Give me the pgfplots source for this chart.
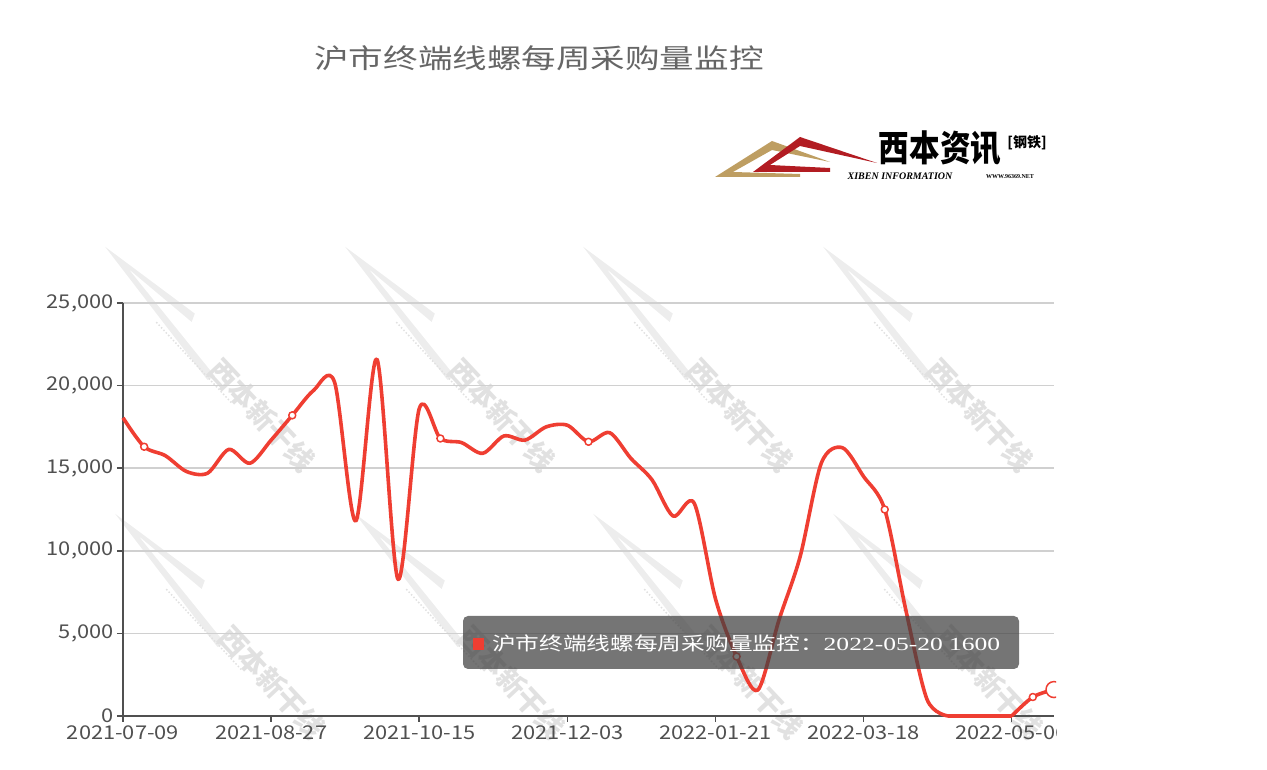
\documentclass[border=0pt]{standalone}
\usepackage{fontspec}
\usepackage{pgfplots}
\usepackage{pgfplotstable}
\pgfplotsset{compat=1.18}
\setmainfont{Noto Sans CJK SC}
\newfontfamily\titlefont{Noto Sans CJK SC}[FakeStretch=1.28]
\newfontfamily\labelfont{Noto Sans CJK SC}[FakeStretch=1.15]
\newfontfamily\tipserif{Liberation Serif}[FakeStretch=1.38]
\newfontfamily\logoserif{Liberation Serif}

\definecolor{linered}{RGB}{239,62,50}
\definecolor{axisgray}{RGB}{80,80,80}
\definecolor{gridgray}{RGB}{208,208,208}
\definecolor{titlegray}{RGB}{102,102,102}
\definecolor{wmgray}{RGB}{225,225,225}
\definecolor{logogold}{RGB}{190,158,98}
\definecolor{logored}{RGB}{178,28,34}

% weekly figures, 2021-07-09 .. 2022-05-20 (no week around spring festival)
\pgfplotstableread{
idx val
0 18050
1 16300
2 15760
3 14800
4 14700
5 16140
6 15300
7 16700
8 18200
9 19700
10 20200
11 11800
12 21600
13 8270
14 18600
15 16800
16 16550
17 15900
18 16950
19 16700
20 17500
21 17600
22 16600
23 17150
24 15600
25 14300
26 12100
27 12870
28 7100
29 3600
30 1570
31 5800
32 9640
33 15300
34 16240
35 14500
36 12500
37 6400
38 1000
39 0
40 0
41 0
42 0
43 1150
44 1600
}\weekly

\newcommand\wm[2]{%
  \begin{scope}[shift={(#1,770-#2)}, rotate=-47]
    \fill[wmgray!60] (-230,0) -- (-120,20) -- (-116,12) -- (-198,2) -- (-60,-8) -- (-63,-16) -- cycle;
    \draw[wmgray, line width=1.5pt, dotted] (-140,-14) -- (-30,-14);
    \node[wmgray, transform shape, font=\bfseries\fontsize{28}{30}\selectfont] at (0,0) {西本新干线};
  \end{scope}}

\begin{document}
\begin{tikzpicture}[x=1pt, y=1pt]
\useasboundingbox (0,0) rectangle (1267,770);

% watermarks
\foreach \cx in {262,502,740,980} {\wm{\cx}{415}}
\foreach \cx in {272,512,750,990} {\wm{\cx}{682}}

% title
\node[text=titlegray, font=\titlefont\fontsize{27}{30}\selectfont] at (539,712) {沪市终端线螺每周采购量监控};

% logo
\fill[logogold] (715,593) -- (772,629) -- (830,608) -- (772,620) -- (733,598) -- (800,596) -- (800,593) -- cycle;
\fill[logored] (753,598) -- (800,633) -- (877,607) -- (800,624) -- (770,605) -- (830,602) -- (830,598) -- cycle;
\node[font=\bfseries\fontsize{36}{38}\selectfont, xscale=0.85] at (940,622) {西本资讯};
\node[font=\bfseries\fontsize{14}{16}\selectfont] at (1027,627) {[钢铁]};
\node[font=\logoserif\bfseries\itshape\fontsize{10}{12}\selectfont] at (900,594) {XIBEN INFORMATION};
\node[font=\logoserif\bfseries\fontsize{6}{7}\selectfont] at (1010,593) {WWW.96369.NET};

\begin{scope}
\clip (0,0) rectangle (1056,770);
\begin{axis}[
  at={(123pt,54pt)}, anchor=south west,
  scale only axis, width=931pt, height=413pt,
  xmin=0, xmax=44, ymin=0, ymax=25000,
  clip=false,
  axis lines*=left,
  axis line style={draw=axisgray, line width=1.6pt},
  xtick={0,7,...,42},
  xticklabels={2021-07-09,2021-08-27,2021-10-15,2021-12-03,2022-01-21,2022-03-18,2022-05-06},
  ytick={0,5000,...,25000},
  scaled y ticks=false,
  ymajorgrids,
  grid style={draw=gridgray, line width=1.5pt},
  tick align=outside, major tick length=6pt,
  tick style={draw=axisgray, line width=1.6pt},
  tick label style={font=\labelfont\fontsize{19}{22}\selectfont, text=axisgray},
  yticklabel style={/pgf/number format/.cd, 1000 sep={,}, assume math mode=true},
  every axis plot/.append style={line join=round},
]
\addplot[linered, line width=3.6pt, smooth,
  mark=*, mark repeat=7, mark phase=2, mark size=3.5pt,
  mark options={fill=white, draw=linered, line width=1.5pt},
  restrict x to domain=0:39]
  table[x=idx, y=val] {\weekly};
\addplot[linered, line width=3.6pt, restrict x to domain=39:42]
  table[x=idx, y=val] {\weekly};
\addplot[linered, line width=3.6pt, smooth,
  mark=*, mark repeat=7, mark phase=2, mark size=3.5pt,
  mark options={fill=white, draw=linered, line width=1.5pt},
  restrict x to domain=42:44]
  table[x=idx, y=val] {\weekly};
\addplot[only marks, mark=*, mark size=8pt,
  mark options={fill=white, draw=linered, line width=1.5pt}]
  coordinates {(44,1600)};
\end{axis}
\end{scope}

% tooltip
\fill[black!75, fill opacity=0.72, rounded corners=5pt] (463,101) rectangle (1019,154);
\fill[linered] (473,120) rectangle (484,132);
\node[anchor=west, text=white, inner sep=0pt] at (492,127) {\titlefont\fontsize{18.5}{21}\selectfont 沪市终端线螺每周采购量监控：\tipserif\fontsize{18.5}{21}\selectfont 2022-05-20 1600};
\end{tikzpicture}
\end{document}
